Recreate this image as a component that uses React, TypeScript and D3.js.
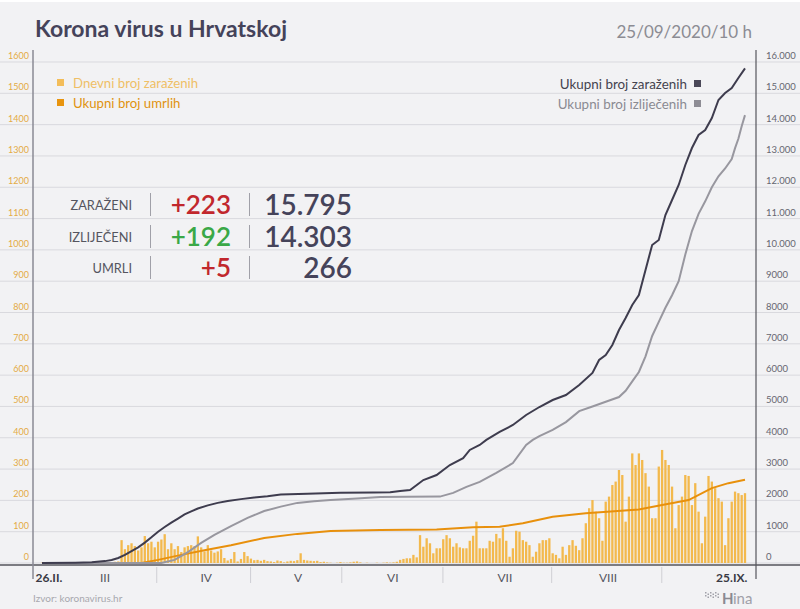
import React from 'react';
import * as d3 from 'd3';

// ---- data (day index 0 = 26.II.2020, 212 = 25.IX.2020) ----
const dailyCases: number[] = [
  1,0,1,0,1,2,1,2,0,1,0,1,2,1,3,2,3,2,4,3,2,3,4,5,
  73,44,57,63,54,40,50,86,63,68,50,68,75,92,44,63,44,54,35,50,
  54,57,54,85,50,37,57,40,33,37,44,16,8,13,35,5,13,35,22,14,
  9,10,7,10,6,5,3,8,6,2,5,7,6,9,31,10,8,7,6,7,3,4,2,1,0,1,3,1,1,2,
  4,5,2,0,1,0,0,1,0,1,2,1,2,
  4,10,13,15,15,26,18,89,52,79,63,31,47,47,76,89,79,52,63,50,
  47,47,71,87,132,47,47,47,71,68,93,79,111,71,20,47,103,100,73,68,
  57,20,36,63,73,73,79,31,26,15,52,26,57,73,55,41,79,127,175,201,
  164,143,71,196,212,249,260,297,281,132,212,350,313,350,329,287,244,143,143,308,
  361,329,313,244,111,185,212,281,278,185,255,164,63,148,278,260,239,207,196,57,
  143,196,228,223,217,223
];

const totalDays: number[] = [0,10,15,19,21,23,25,27,29,31,33,35,37,39,41,43,45,47,50,53,56,60,64,68,72,80,90,100,105,108,111,115,119,123,127,129,132,134,138,142,146,150,154,158,162,166,168,170,172,174,176,178,180,182,184,186,188,190,192,194,196,198,200,202,204,206,208,210,212];
const totalCases: number[] = [2,10,25,60,95,160,260,380,500,650,820,1000,1150,1290,1420,1550,1650,1740,1840,1920,1980,2040,2090,2130,2190,2210,2240,2250,2260,2300,2330,2650,2810,3130,3350,3610,3770,3930,4184,4407,4726,4982,5205,5365,5685,6068,6483,6643,6962,7441,7824,8240,8559,9357,10156,10315,11114,11593,12072,12711,13253,13669,13828,14211,14786,15010,15170,15489,15795];

const recDays: number[] = [0,36,40,44,48,52,57,62,67,72,77,82,87,95,102,110,120,124,128,132,137,142,146,148,150,154,158,162,166,170,174,176,178,180,182,184,186,188,190,192,194,196,198,200,202,204,206,208,209,210,211,212];
const recCases: number[] = [0,0,100,350,640,900,1180,1440,1660,1800,1920,1970,2010,2060,2110,2115,2120,2240,2430,2590,2875,3190,3770,3930,4050,4250,4500,4850,5000,5150,5300,5500,5800,6100,6600,7250,7700,8150,8550,9000,9850,10600,11150,11550,12000,12350,12600,12900,13250,13550,13950,14303];

const deathDays: number[] = [0,30,35,42,49,57,67,77,87,102,119,130,138,145,154,164,180,187,195,202,207,212];
const deathTotal: number[] = [0,0,10,26,41,57,80,93,102,105,107,114,116,127,148,159,171,185,201,239,255,266];

const leftTicks: number[] = d3.range(0, 1700, 100);
const rightTicks: number[] = d3.range(0, 17000, 1000);
const monthSeparators: number[] = [34.6, 62.9, 90.4, 120.9, 153.7, 186.9];
const monthLabels: string[] = ['26.II.', 'III', 'IV', 'V', 'VI', 'VII', 'VIII', '25.IX.'];
const monthLabelDays: number[] = [2.1, 19, 49.5, 77.2, 105.8, 139.6, 170.7, 208];

const statLabels: string[] = ['ZARAŽENI', 'IZLIJEČENI', 'UMRLI'];
const statDelta: string[] = ['+223', '+192', '+5'];
const statTotal: string[] = ['15.795', '14.303', '266'];

const FONT = 'Lato, "Open Sans", sans-serif';

export default function App() {
  const x = d3.scaleLinear().domain([0, 212]).range([42, 745]);
  const yL = d3.scaleLinear().domain([0, 1600]).range([563, 62]);
  const yR = d3.scaleLinear().domain([0, 16000]).range([563, 62]);

  const lineR = d3.line<[number, number]>().x(p => x(p[0])).y(p => yR(p[1]));
  const lineL = d3.line<[number, number]>().x(p => x(p[0])).y(p => yL(p[1]));

  const totalPts = totalDays.map((d, i) => [d, totalCases[i]] as [number, number]);
  const recPts = recDays.map((d, i) => [d, recCases[i]] as [number, number]);
  const deathPts = deathDays.map((d, i) => [d, deathTotal[i]] as [number, number]);

  const fmtR = (v: number) => (v >= 10000 ? d3.format(',')(v).replace(',', '.') : String(v));
  const statColors = ['#c1272d', '#3aa847', '#c1272d'];
  const rowY = [205, 237, 268];

  return (
    <div style={{ position: 'absolute', left: 0, top: 0 }}>
      <svg width={800} height={609} style={{ display: 'block' }} fontFamily={FONT}>
        <rect x={0} y={0} width={800} height={609} fill="#f2f2f4" />
        <rect x={0} y={0} width={800} height={2} fill="#ffffff" />

        {/* gridlines */}
        {leftTicks.map(t => (
          <line key={'g' + t} x1={0} x2={800} y1={yL(t)} y2={yL(t)} stroke="#d9d9de" strokeWidth={1} />
        ))}

        {/* left labels */}
        {leftTicks.map(t => (
          <text key={'l' + t} x={29} y={yL(t) - 3} textAnchor="end" fontSize={9} fill="#e4ab45">{t}</text>
        ))}
        {/* right labels */}
        {rightTicks.map(t => (
          <text key={'r' + t} x={766} y={yR(t) - 3} textAnchor="start" fontSize={9.5} fill="#666670">{fmtR(t)}</text>
        ))}

        {/* bars */}
        {dailyCases.map((v, i) => (
          <rect key={'b' + i} x={x(i) - 1.15} width={2.3} y={yL(v)} height={yL(0) - yL(v)} fill="#f3b94d" />
        ))}

        {/* lines */}
        <path d={lineL(deathPts) || ''} fill="none" stroke="#e8900c" strokeWidth={2} />
        <path d={lineR(recPts) || ''} fill="none" stroke="#98979f" strokeWidth={2} />
        <path d={lineR(totalPts) || ''} fill="none" stroke="#3e3c4e" strokeWidth={2} />

        {/* axes */}
        <line x1={0} x2={800} y1={565} y2={565} stroke="#55555c" strokeWidth={1.5} />
        <line x1={33} x2={33} y1={50} y2={579} stroke="#8a8a94" strokeWidth={1.5} />
        <line x1={756} x2={756} y1={50} y2={579} stroke="#55555c" strokeWidth={1.2} />
        {monthSeparators.map((d, i) => (
          <line key={'s' + i} x1={x(d)} x2={x(d)} y1={567} y2={583} stroke="#cfcfd4" strokeWidth={1} />
        ))}
        {monthLabels.map((m, i) => (
          <text key={'m' + i} x={x(monthLabelDays[i])} y={582} textAnchor="middle" fontSize={12}
            fontWeight={i === 0 || i === monthLabels.length - 1 ? 700 : 400}
            fill={i === 0 || i === monthLabels.length - 1 ? '#3a3a44' : '#555560'}>{m}</text>
        ))}

        {/* title & date */}
        <text x={35} y={37} fontSize={23} fontWeight={700} fill="#45435a">Korona virus u Hrvatskoj</text>
        <text x={752} y={38} textAnchor="end" fontSize={17} fill="#8c8c93">25/09/2020/10 h</text>

        {/* legend left */}
        <rect x={57} y={79} width={7} height={7} fill="#f3bd5a" />
        <text x={73} y={87.5} fontSize={13.2} fill="#efbf66">Dnevni broj zaraženih</text>
        <rect x={57} y={99} width={7} height={7} fill="#e8940e" />
        <text x={73} y={107.5} fontSize={13.2} fill="#e0920f">Ukupni broj umrlih</text>

        {/* legend right */}
        <text x={687} y={88.5} textAnchor="end" fontSize={13.4} fill="#44434f">Ukupni broj zaraženih</text>
        <rect x={694} y={80} width={7} height={7} fill="#4a4858" />
        <text x={687} y={108.5} textAnchor="end" fontSize={13.4} fill="#8a8a92">Ukupni broj izliječenih</text>
        <rect x={694} y={100} width={7} height={7} fill="#8e8d95" />

        {/* stats */}
        {statLabels.map((s, i) => (
          <g key={'st' + i}>
            <text x={132} y={rowY[i] + 5} textAnchor="end" fontSize={12.8} fill="#55555f">{s}</text>
            <line x1={150.5} x2={150.5} y1={rowY[i] - 12} y2={rowY[i] + 11} stroke="#a0a0a8" strokeWidth={1} />
            <text x={231} y={rowY[i] + 9} textAnchor="end" fontSize={26} fontWeight={600} fill={statColors[i]}>{statDelta[i]}</text>
            <line x1={249.5} x2={249.5} y1={rowY[i] - 12} y2={rowY[i] + 11} stroke="#a0a0a8" strokeWidth={1} />
            <text x={352} y={rowY[i] + 10} textAnchor="end" fontSize={28} fontWeight={600} fill="#45435a">{statTotal[i]}</text>
          </g>
        ))}

        {/* footer */}
        <text x={33} y={602} fontSize={10} fill="#a8a8ae">Izvor: koronavirus.hr</text>
        <g>
          {d3.range(12).map(k => (
            <rect key={'lg' + k} x={705 + (k % 6) * 2.5} y={592 + Math.floor(k / 6) * 3 + ((k % 2) * 1.5)} width={1.5} height={1.5} fill="#a0a0a8" />
          ))}
          <text x={722} y={604} fontSize={15} fontWeight={700} fill="#8a8a92">H</text>
          <text x={733} y={604} fontSize={15} fill="#a0a0a8">ina</text>
        </g>
      </svg>
    </div>
  );
}
